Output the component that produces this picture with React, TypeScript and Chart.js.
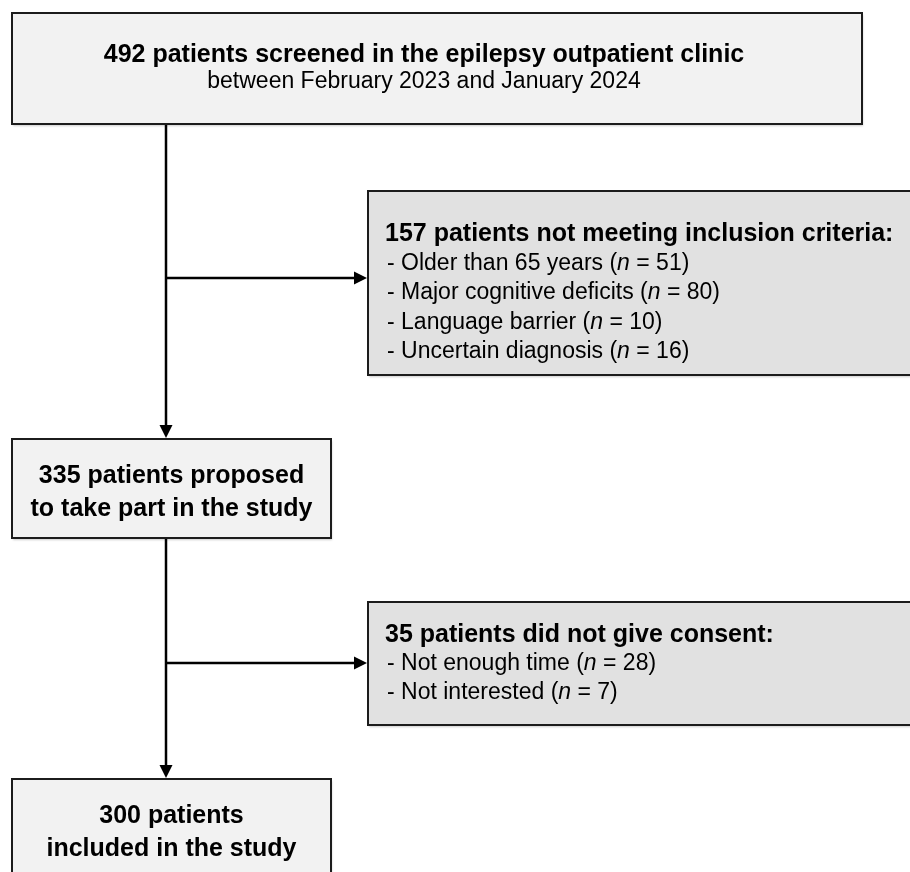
import React, { useEffect, useRef } from "react";
import { Chart, registerables } from "chart.js";

Chart.register(...registerables);

// ---- data ----
const screenedTotal = 492;
const screenedPlace = "screened in the epilepsy outpatient clinic";
const screenedPeriod = "between February 2023 and January 2024";
const exclusionTotal = 157;
const exclusionReasons = ["Older than 65 years", "Major cognitive deficits", "Language barrier", "Uncertain diagnosis"];
const exclusionCounts = [51, 80, 10, 16];
const proposedTotal = 335;
const consentTotal = 35;
const consentReasons = ["Not enough time", "Not interested"];
const consentCounts = [28, 7];
const includedTotal = 300;

// ---- layout (canvas units) ----
const W = 910;
const H = 872;
const FONT = "'Liberation Sans', Arial, Helvetica, sans-serif";
const spineX = 166;
const boxTop = { x0: 12, y0: 13, x1: 862, y1: 124 };
const boxExcl = { x0: 368, y0: 191, x1: 930, y1: 375 };
const boxProp = { x0: 12, y0: 439, x1: 331, y1: 538 };
const boxCons = { x0: 368, y0: 602, x1: 930, y1: 725 };
const boxIncl = { x0: 12, y0: 779, x1: 331, y1: 930 };
const branch1Y = 278;
const branch2Y = 663;
const lightFill = "#f2f2f2";
const greyFill = "#e1e1e1";

type Seg = { t: string; bold?: boolean; italic?: boolean };

const flowPlugin = {
  id: "flow",
  afterDraw(chart: any) {
    const ctx: CanvasRenderingContext2D = chart.ctx;
    const xs = chart.scales.x;
    const ys = chart.scales.y;
    const X = (v: number) => xs.getPixelForValue(v);
    const Y = (v: number) => ys.getPixelForValue(v);

    const box = (b: any, fill: string) => {
      ctx.save();
      ctx.shadowColor = "rgba(0,0,0,0.2)";
      ctx.shadowBlur = 2;
      ctx.shadowOffsetX = 1;
      ctx.shadowOffsetY = 1.5;
      ctx.fillStyle = fill;
      ctx.fillRect(X(b.x0), Y(b.y0), X(b.x1) - X(b.x0), Y(b.y1) - Y(b.y0));
      ctx.restore();
      ctx.save();
      ctx.strokeStyle = "#1c1c1c";
      ctx.lineWidth = 2;
      ctx.strokeRect(X(b.x0), Y(b.y0), X(b.x1) - X(b.x0), Y(b.y1) - Y(b.y0));
      ctx.restore();
    };

    const fontOf = (s: Seg, size: number) =>
      `${s.italic ? "italic " : ""}${s.bold ? "bold " : ""}${size}px ${FONT}`;

    const segWidth = (segs: Seg[], size: number) => {
      let w = 0;
      for (const s of segs) {
        ctx.font = fontOf(s, size);
        w += ctx.measureText(s.t).width;
      }
      return w;
    };

    // y is the text baseline
    const text = (segs: Seg[], x: number, y: number, size: number, align: "left" | "center") => {
      ctx.save();
      ctx.fillStyle = "#000";
      ctx.textBaseline = "alphabetic";
      ctx.textAlign = "left";
      let cx = X(x);
      if (align === "center") cx -= segWidth(segs, size) / 2;
      for (const s of segs) {
        ctx.font = fontOf(s, size);
        ctx.fillText(s.t, cx, Y(y));
        cx += ctx.measureText(s.t).width;
      }
      ctx.restore();
    };

    const arrow = (x0: number, y0: number, x1: number, y1: number) => {
      const px0 = X(x0), py0 = Y(y0), px1 = X(x1), py1 = Y(y1);
      const ang = Math.atan2(py1 - py0, px1 - px0);
      const len = 13, half = 6.5;
      const bx = px1 - len * Math.cos(ang);
      const by = py1 - len * Math.sin(ang);
      ctx.save();
      ctx.strokeStyle = "#000";
      ctx.lineWidth = 2.5;
      ctx.beginPath();
      ctx.moveTo(px0, py0);
      ctx.lineTo(bx, by);
      ctx.stroke();
      ctx.fillStyle = "#000";
      ctx.beginPath();
      ctx.moveTo(px1, py1);
      ctx.lineTo(bx + half * Math.sin(ang), by - half * Math.cos(ang));
      ctx.lineTo(bx - half * Math.sin(ang), by + half * Math.cos(ang));
      ctx.closePath();
      ctx.fill();
      ctx.restore();
    };

    // connectors
    arrow(spineX, boxTop.y1, spineX, boxProp.y0 - 1);
    arrow(spineX, branch1Y, boxExcl.x0 - 1, branch1Y);
    arrow(spineX, boxProp.y1, spineX, boxIncl.y0 - 1);
    arrow(spineX, branch2Y, boxCons.x0 - 1, branch2Y);

    // boxes
    box(boxTop, lightFill);
    box(boxExcl, greyFill);
    box(boxProp, lightFill);
    box(boxCons, greyFill);
    box(boxIncl, lightFill);

    // top box
    const topCx = 424;
    text([{ t: `${screenedTotal} patients ${screenedPlace}`, bold: true }], topCx, 62, 25, "center");
    text([{ t: screenedPeriod }], topCx, 88, 23, "center");

    // exclusion box
    text([{ t: `${exclusionTotal} patients not meeting inclusion criteria:`, bold: true }], 385, 241, 25, "left");
    exclusionReasons.forEach((r, i) => {
      text(
        [{ t: `- ${r} (` }, { t: "n", italic: true }, { t: ` = ${exclusionCounts[i]})` }],
        387, 270 + i * 29.3, 23, "left"
      );
    });

    // proposed box
    const leftCx = (boxProp.x0 + boxProp.x1) / 2;
    text([{ t: `${proposedTotal} patients proposed`, bold: true }], leftCx, 483, 25, "center");
    text([{ t: "to take part in the study", bold: true }], leftCx, 516, 25, "center");

    // consent box
    text([{ t: `${consentTotal} patients did not give consent:`, bold: true }], 385, 642, 25, "left");
    consentReasons.forEach((r, i) => {
      text(
        [{ t: `- ${r} (` }, { t: "n", italic: true }, { t: ` = ${consentCounts[i]})` }],
        387, 670 + i * 29.3, 23, "left"
      );
    });

    // included box
    text([{ t: `${includedTotal} patients`, bold: true }], leftCx, 823, 25, "center");
    text([{ t: "included in the study", bold: true }], leftCx, 856, 25, "center");
  },
};

export default function App() {
  const ref = useRef<HTMLCanvasElement | null>(null);
  useEffect(() => {
    if (!ref.current) return;
    const chart = new Chart(ref.current, {
      type: "scatter",
      data: { datasets: [{ data: [] }] },
      options: {
        animation: false,
        responsive: false,
        maintainAspectRatio: false,
        layout: { padding: 0 },
        plugins: { legend: { display: false }, tooltip: { enabled: false } },
        scales: {
          x: { type: "linear", min: 0, max: W, display: false },
          y: { type: "linear", min: 0, max: H, reverse: true, display: false },
        },
      },
      plugins: [flowPlugin],
    });
    return () => chart.destroy();
  }, []);
  return (
    <div style={{ position: "fixed", left: 0, top: 0, width: W, height: H, background: "#fff" }}>
      <canvas ref={ref} width={W} height={H} style={{ display: "block" }} />
    </div>
  );
}
